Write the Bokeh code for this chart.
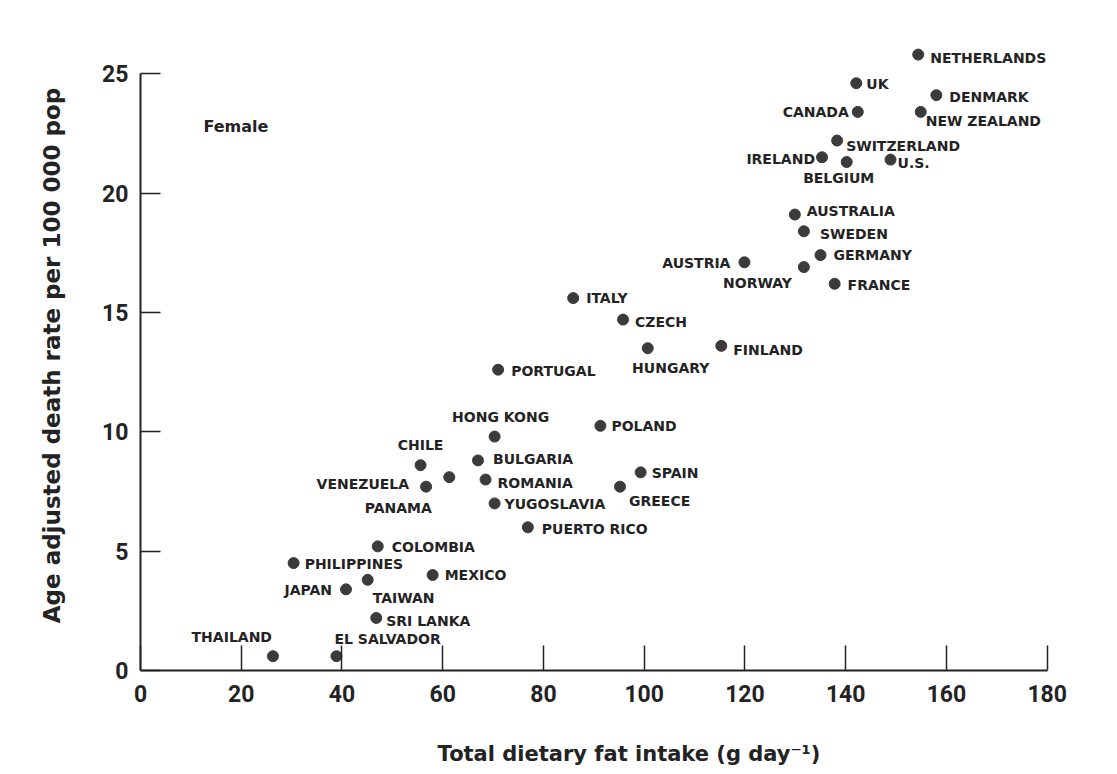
from bokeh.plotting import figure
from bokeh.models import ColumnDataSource, FixedTicker, Label
from bokeh.core.properties import value, field
from bokeh.embed import file_html
from bokeh.resources import INLINE

# Female breast-cancer mortality against total dietary fat intake, by country
countries = [
    "NETHERLANDS", "UK", "DENMARK", "CANADA", "NEW ZEALAND", "SWITZERLAND",
    "IRELAND", "BELGIUM", "U.S.", "AUSTRALIA", "SWEDEN", "GERMANY", "AUSTRIA",
    "NORWAY", "FRANCE", "ITALY", "CZECH", "FINLAND", "HUNGARY", "PORTUGAL",
    "HONG KONG", "POLAND", "CHILE", "BULGARIA", "VENEZUELA", "PANAMA",
    "ROMANIA", "SPAIN", "GREECE", "YUGOSLAVIA", "PUERTO RICO", "COLOMBIA",
    "PHILIPPINES", "MEXICO", "TAIWAN", "JAPAN", "SRI LANKA", "THAILAND",
    "EL SALVADOR",
]
fat_intake = [
    154.4, 142.1, 158.0, 142.4, 154.9, 138.3,
    135.3, 140.2, 148.9, 129.9, 131.7, 135.0, 119.9,
    131.7, 137.8, 85.9, 95.8, 115.3, 100.7, 71.0,
    70.3, 91.3, 55.6, 67.0, 56.7, 61.3,
    68.5, 99.3, 95.2, 70.3, 76.9, 47.1,
    30.4, 58.0, 45.1, 40.8, 46.8, 26.3,
    38.9,
]
death_rate = [
    25.8, 24.6, 24.1, 23.4, 23.4, 22.2,
    21.5, 21.3, 21.4, 19.1, 18.4, 17.4, 17.1,
    16.9, 16.2, 15.6, 14.7, 13.6, 13.5, 12.6,
    9.8, 10.25, 8.6, 8.8, 7.7, 8.1,
    8.0, 8.3, 7.7, 7.0, 6.0, 5.2,
    4.5, 4.0, 3.8, 3.4, 2.2, 0.6,
    0.6,
]

x_ticks = [0, 20, 40, 60, 80, 100, 120, 140, 160, 180]
y_ticks = [0, 5, 10, 15, 20, 25]

# where each country name sits relative to its dot: (align, dx px, dy px)
placement = {
    "NETHERLANDS": ("left", 12, 3), "UK": ("left", 10, 1),
    "DENMARK": ("left", 13, 2), "CANADA": ("right", -9, 0),
    "NEW ZEALAND": ("left", 5, 9), "SWITZERLAND": ("left", 9, 5),
    "IRELAND": ("right", -7, 2), "BELGIUM": ("center", -8, 16),
    "U.S.": ("left", 7, 3), "AUSTRALIA": ("left", 12, -4),
    "SWEDEN": ("left", 16, 3), "GERMANY": ("left", 13, 0),
    "AUSTRIA": ("right", -14, 1), "NORWAY": ("right", -12, 16),
    "FRANCE": ("left", 13, 1), "ITALY": ("left", 13, 0),
    "CZECH": ("left", 12, 2), "FINLAND": ("left", 12, 4),
    "HUNGARY": ("center", 23, 20), "PORTUGAL": ("left", 13, 1),
    "HONG KONG": ("center", 6, -20), "POLAND": ("left", 11, 0),
    "CHILE": ("center", 0, -20), "BULGARIA": ("left", 15, -1),
    "VENEZUELA": ("right", -17, -3), "PANAMA": ("center", -51, 31),
    "ROMANIA": ("left", 12, 3), "SPAIN": ("left", 11, 1),
    "GREECE": ("left", 9, 14), "YUGOSLAVIA": ("left", 10, 1),
    "PUERTO RICO": ("left", 14, 2), "COLOMBIA": ("left", 14, 1),
    "PHILIPPINES": ("left", 11, 1), "MEXICO": ("left", 12, 0),
    "TAIWAN": ("left", 5, 18), "JAPAN": ("right", -14, 1),
    "SRI LANKA": ("left", 10, 3), "THAILAND": ("right", -1, -19),
    "EL SALVADOR": ("left", -2, -17),
}

INK = "#232323"
DOT = "#3b3b3b"
LABEL_FONT = "DejaVu Sans"
TICK_FONT = "Roboto"

source = ColumnDataSource(dict(
    fat=fat_intake,
    rate=death_rate,
    name=countries,
    align=[placement[c][0] for c in countries],
    dx=[placement[c][1] for c in countries],
    dy=[placement[c][2] for c in countries],
))

# the frame runs to the right edge so the x title centres right of the axis middle
p = figure(
    width=1117, height=774,
    x_range=(0, 193.96), y_range=(0, 26.39),
    output_backend="svg", toolbar_location=None,
    min_border_left=140, min_border_right=0,
    min_border_top=40, min_border_bottom=104,
    background_fill_color="white", border_fill_color="white",
)
p.outline_line_color = None
p.grid.visible = False

p.scatter("fat", "rate", source=source, size=11, color=DOT)
p.text("fat", "rate", text="name", source=source,
       x_offset="dx", y_offset="dy",
       text_align=field("align"), text_baseline="middle",
       text_font=value(LABEL_FONT), text_font_size="14px",
       text_font_style="bold", text_color=INK)

# axes: lines stop at the last tick, ticks point into the plot
p.xaxis.ticker = FixedTicker(ticks=x_ticks)
p.yaxis.ticker = FixedTicker(ticks=y_ticks)
p.xaxis.bounds = (x_ticks[0], x_ticks[-1])
p.yaxis.bounds = (y_ticks[0], y_ticks[-1])
p.xaxis.major_tick_in = 25
p.yaxis.major_tick_in = 20
p.axis.major_tick_out = 0
p.axis.minor_tick_line_color = None
p.axis.axis_line_width = 2
p.axis.axis_line_color = INK
p.axis.major_tick_line_width = 1.5
p.axis.major_tick_line_color = INK
p.axis.major_label_text_font = TICK_FONT
p.axis.major_label_text_font_size = "23px"
p.axis.major_label_text_font_style = "bold"
p.axis.major_label_text_color = INK
p.xaxis.major_label_standoff = 14
p.yaxis.major_label_standoff = 12

p.axis.axis_label_text_font = LABEL_FONT
p.axis.axis_label_text_font_style = "bold"
p.axis.axis_label_text_color = INK

p.yaxis.axis_label = "Age adjusted death rate per 100 000 pop"
p.yaxis.axis_label_text_font_size = "23px"
p.yaxis.axis_label_standoff = 34

p.xaxis.axis_label = "Total dietary fat intake (g day\u207b\u00b9)"
p.xaxis.axis_label_text_font_size = "21px"
p.xaxis.axis_label_standoff = 37

p.add_layout(Label(
    x=12.5, y=22.77, text="Female",
    text_align="left", text_baseline="middle",
    text_font=LABEL_FONT, text_font_size="16px", text_font_style="bold",
    text_color=INK,
))

open("out.html", "w").write(file_html(p, INLINE))
